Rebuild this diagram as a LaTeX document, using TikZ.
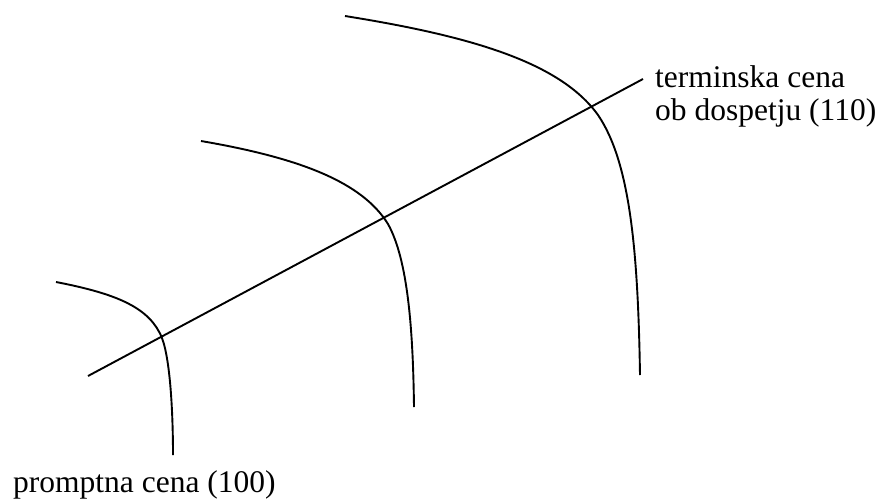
\documentclass[tikz,border=0pt]{standalone}
\usepackage{fontspec}
\setmainfont{Liberation Serif}
\begin{document}
\begin{tikzpicture}[x=1pt,y=-1pt,
  curve/.style={line width=1.9pt, black},
  lbl/.style={inner sep=0pt, font=\fontsize{31.5}{34}\selectfont}]
\useasboundingbox (0,0) rectangle (884,499);
% curves
\draw[curve] (56,282) .. controls (118,294) and (150,308) .. (162,338) .. controls (171,362) and (173,420) .. (173,455);
\draw[curve] (201,141) .. controls (300,158) and (362,182) .. (388,224) .. controls (408,260) and (413,330) .. (414,407);
\draw[curve] (345,16) .. controls (470,36) and (560,62) .. (598,115) .. controls (630,162) and (638,250) .. (640,375);
% straight line
\coordinate (a) at (88,376);
\coordinate (b) at (643,79);
\draw[curve] (a) -- (b);
% labels
\node[lbl, anchor=base west] (t1) at (655,87) {terminska cena};
\node[lbl, anchor=base west] (t2) at (655,120) {ob dospetju (110)};
\node[lbl, anchor=base west] (p) at (13,492) {promptna cena (100)};
\end{tikzpicture}
\end{document}
